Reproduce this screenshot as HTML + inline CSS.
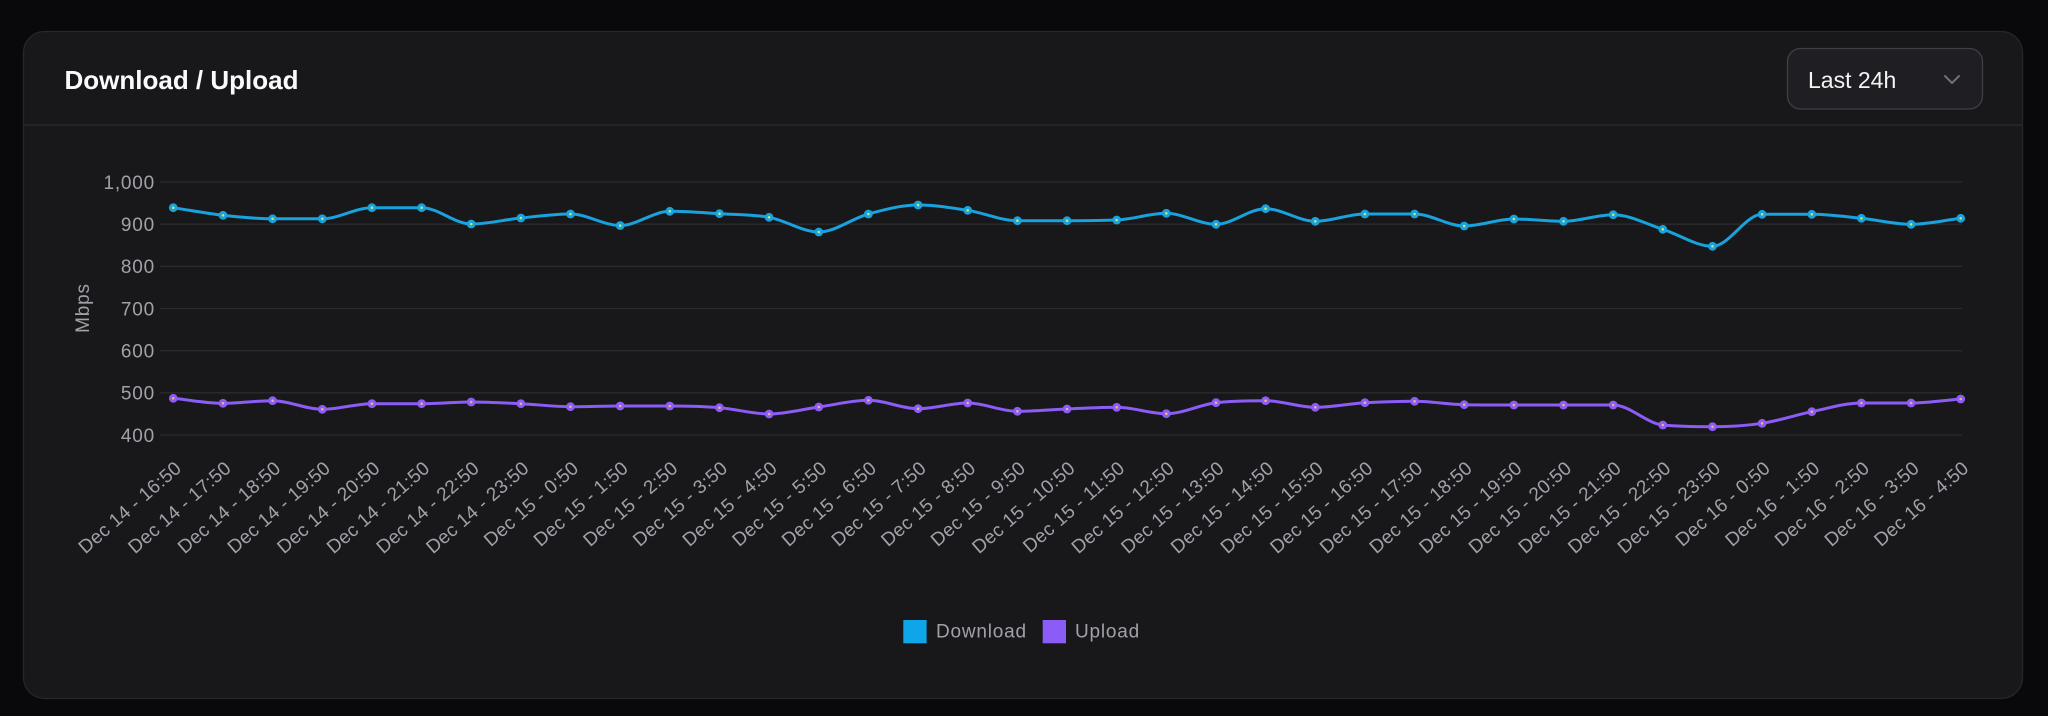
<!DOCTYPE html>
<html>
<head>
<meta charset="utf-8">
<style>
  html, body { margin:0; padding:0; background:#09090b; }
  body { width:2048px; height:716px; overflow:hidden; }
  svg { display:block; font-family:"Liberation Sans", sans-serif; }
  .tick { font-size:19px; fill:#a1a1aa; letter-spacing:0.8px; }
  .xl { font-size:19px; fill:#a1a1aa; letter-spacing:0.3px; }
</style>
</head>
<body>
<svg width="2048" height="716" viewBox="0 0 2048 716" xmlns="http://www.w3.org/2000/svg">
  <defs>
    <marker id="md" markerUnits="userSpaceOnUse" markerWidth="14" markerHeight="14" refX="7" refY="7" overflow="visible">
      <circle cx="7" cy="7" r="4.4" fill="#18a2de"/>
      <circle cx="7" cy="7" r="1.3" fill="#c9e26e"/>
    </marker>
    <marker id="mu" markerUnits="userSpaceOnUse" markerWidth="14" markerHeight="14" refX="7" refY="7" overflow="visible">
      <circle cx="7" cy="7" r="4.4" fill="#8b5cf6"/>
      <circle cx="7" cy="7" r="1.3" fill="#f0b27c"/>
    </marker>
  </defs>

  <rect x="0" y="0" width="2048" height="716" fill="#09090b"/>

  <rect x="23.5" y="31.5" width="1999" height="667" rx="21" ry="21" fill="#18181b" stroke="#27272a" stroke-width="1.3"/>
  <line x1="24" y1="125" x2="2022" y2="125" stroke="#2c2c30" stroke-width="1.3"/>

  <text x="64.5" y="89" font-size="26" font-weight="bold" fill="#fafafa">Download / Upload</text>

  <rect x="1787.5" y="48.5" width="195" height="60.5" rx="13" ry="13" fill="#1f1f23" stroke="#3f3f46" stroke-width="1.3"/>
  <text x="1808" y="88" font-size="23" fill="#f4f4f5">Last 24h</text>
  <polyline points="1945,76 1952,83 1959,76" fill="none" stroke="#71717a" stroke-width="2" stroke-linecap="round" stroke-linejoin="round"/>

  <g stroke="#2a2a2e" stroke-width="1.3">
    <line x1="160" y1="182" x2="1962" y2="182"/>
    <line x1="160" y1="224.2" x2="1962" y2="224.2"/>
    <line x1="160" y1="266.3" x2="1962" y2="266.3"/>
    <line x1="160" y1="308.5" x2="1962" y2="308.5"/>
    <line x1="160" y1="350.7" x2="1962" y2="350.7"/>
    <line x1="160" y1="392.8" x2="1962" y2="392.8"/>
    <line x1="160" y1="435" x2="1962" y2="435"/>
  </g>

  <g class="tick" text-anchor="end">
    <text x="155" y="188.8">1,000</text>
    <text x="155" y="231">900</text>
    <text x="155" y="273.1">800</text>
    <text x="155" y="315.3">700</text>
    <text x="155" y="357.5">600</text>
    <text x="155" y="399.6">500</text>
    <text x="155" y="441.8">400</text>
  </g>
  <text class="tick" transform="translate(89,308) rotate(-90)" text-anchor="middle">Mbps</text>

  <g class="xl" text-anchor="end">
    <text transform="translate(182.6,470) rotate(-41)">Dec 14 - 16:50</text>
    <text transform="translate(232.3,470) rotate(-41)">Dec 14 - 17:50</text>
    <text transform="translate(281.9,470) rotate(-41)">Dec 14 - 18:50</text>
    <text transform="translate(331.6,470) rotate(-41)">Dec 14 - 19:50</text>
    <text transform="translate(381.2,470) rotate(-41)">Dec 14 - 20:50</text>
    <text transform="translate(430.9,470) rotate(-41)">Dec 14 - 21:50</text>
    <text transform="translate(480.5,470) rotate(-41)">Dec 14 - 22:50</text>
    <text transform="translate(530.2,470) rotate(-41)">Dec 14 - 23:50</text>
    <text transform="translate(579.8,470) rotate(-41)">Dec 15 - 0:50</text>
    <text transform="translate(629.5,470) rotate(-41)">Dec 15 - 1:50</text>
    <text transform="translate(679.1,470) rotate(-41)">Dec 15 - 2:50</text>
    <text transform="translate(728.8,470) rotate(-41)">Dec 15 - 3:50</text>
    <text transform="translate(778.4,470) rotate(-41)">Dec 15 - 4:50</text>
    <text transform="translate(828.1,470) rotate(-41)">Dec 15 - 5:50</text>
    <text transform="translate(877.7,470) rotate(-41)">Dec 15 - 6:50</text>
    <text transform="translate(927.4,470) rotate(-41)">Dec 15 - 7:50</text>
    <text transform="translate(977,470) rotate(-41)">Dec 15 - 8:50</text>
    <text transform="translate(1026.7,470) rotate(-41)">Dec 15 - 9:50</text>
    <text transform="translate(1076.3,470) rotate(-41)">Dec 15 - 10:50</text>
    <text transform="translate(1126,470) rotate(-41)">Dec 15 - 11:50</text>
    <text transform="translate(1175.6,470) rotate(-41)">Dec 15 - 12:50</text>
    <text transform="translate(1225.3,470) rotate(-41)">Dec 15 - 13:50</text>
    <text transform="translate(1274.9,470) rotate(-41)">Dec 15 - 14:50</text>
    <text transform="translate(1324.6,470) rotate(-41)">Dec 15 - 15:50</text>
    <text transform="translate(1374.2,470) rotate(-41)">Dec 15 - 16:50</text>
    <text transform="translate(1423.9,470) rotate(-41)">Dec 15 - 17:50</text>
    <text transform="translate(1473.5,470) rotate(-41)">Dec 15 - 18:50</text>
    <text transform="translate(1523.2,470) rotate(-41)">Dec 15 - 19:50</text>
    <text transform="translate(1572.8,470) rotate(-41)">Dec 15 - 20:50</text>
    <text transform="translate(1622.5,470) rotate(-41)">Dec 15 - 21:50</text>
    <text transform="translate(1672.1,470) rotate(-41)">Dec 15 - 22:50</text>
    <text transform="translate(1721.8,470) rotate(-41)">Dec 15 - 23:50</text>
    <text transform="translate(1771.4,470) rotate(-41)">Dec 16 - 0:50</text>
    <text transform="translate(1821.1,470) rotate(-41)">Dec 16 - 1:50</text>
    <text transform="translate(1870.7,470) rotate(-41)">Dec 16 - 2:50</text>
    <text transform="translate(1920.4,470) rotate(-41)">Dec 16 - 3:50</text>
    <text transform="translate(1970,470) rotate(-41)">Dec 16 - 4:50</text>
  </g>

  <g id="series">
    <polyline id="upl" fill="none" stroke="#8b5cf6" stroke-width="3" stroke-linejoin="round"
      marker-start="url(#mu)" marker-mid="url(#mu)" marker-end="url(#mu)"
      points="173.3,398.3 223,403.3 272.6,400.7 322.3,409.3 371.9,403.7 421.6,403.7 471.2,402 520.9,403.7 570.5,406.7 620.2,406 669.8,406 719.5,407.7 769.1,414 818.8,407 868.4,400.3 918.1,408.7 967.7,403 1017.4,411.3 1067,409 1116.7,407.3 1166.3,413.7 1216,402.7 1265.6,400.7 1315.3,407.3 1364.9,402.7 1414.6,401.3 1464.2,404.7 1513.9,405 1563.5,405 1613.2,405 1662.8,425 1712.5,426.7 1762.1,423.3 1811.8,411.7 1861.4,403 1911.1,403 1960.7,399"/>
    <polyline id="dl" fill="none" stroke="#18a2de" stroke-width="3" stroke-linejoin="round"
      marker-start="url(#md)" marker-mid="url(#md)" marker-end="url(#md)"
      points="173.3,207.7 223,215.3 272.6,218.8 322.3,218.8 371.9,207.7 421.6,207.7 471.2,224 520.9,218 570.5,214 620.2,225.5 669.8,211.3 719.5,213.7 769.1,217.3 818.8,232 868.4,214 918.1,205 967.7,210.3 1017.4,220.7 1067,220.7 1116.7,220 1166.3,213.3 1216,224.3 1265.6,208.7 1315.3,221.3 1364.9,214 1414.6,214 1464.2,226 1513.9,219 1563.5,221.3 1613.2,214.7 1662.8,229.3 1712.5,246.3 1762.1,214.3 1811.8,214.3 1861.4,218.3 1911.1,224.3 1960.7,218.3"/>
  </g>

  <rect x="903.3" y="620" width="23.3" height="23.3" fill="#0ea5e9"/>
  <text class="tick" x="936" y="637.3">Download</text>
  <rect x="1042.7" y="620" width="23.3" height="23.3" fill="#8b5cf6"/>
  <text class="tick" x="1075" y="637.3">Upload</text>
</svg>

<script>
(function(){
  var NS = "http://www.w3.org/2000/svg";
  function smooth(id){
    var pl = document.getElementById(id);
    if(!pl) return;
    var raw = pl.getAttribute("points").trim().split(/\s+/);
    var x = [], y = [];
    raw.forEach(function(p){ var a = p.split(","); x.push(+a[0]); y.push(+a[1]); });
    var n = x.length, dk = [], mk = [], i;
    for(i=0;i<n-1;i++) dk[i] = (y[i+1]-y[i])/(x[i+1]-x[i]);
    for(i=0;i<n;i++){
      if(i===0) mk[i] = dk[0];
      else if(i===n-1) mk[i] = dk[n-2];
      else if(Math.sign(dk[i-1]) !== Math.sign(dk[i]) || dk[i-1]===0 || dk[i]===0) mk[i] = 0;
      else mk[i] = (dk[i-1]+dk[i])/2;
    }
    for(i=0;i<n-1;i++){
      if(Math.abs(dk[i]) < 1e-9){ mk[i]=0; mk[i+1]=0; continue; }
      var a = mk[i]/dk[i], b = mk[i+1]/dk[i], s = a*a+b*b;
      if(s > 9){ var t = 3/Math.sqrt(s); mk[i] = a*t*dk[i]; mk[i+1] = b*t*dk[i]; }
    }
    var d = "M" + x[0] + " " + y[0];
    for(i=0;i<n-1;i++){
      var dx = (x[i+1]-x[i])/3;
      d += " C" + (x[i]+dx).toFixed(2) + " " + (y[i]+mk[i]*dx).toFixed(2) + " " +
           (x[i+1]-dx).toFixed(2) + " " + (y[i+1]-mk[i+1]*dx).toFixed(2) + " " +
           x[i+1] + " " + y[i+1];
    }
    var path = document.createElementNS(NS, "path");
    path.setAttribute("d", d);
    path.setAttribute("fill", "none");
    path.setAttribute("stroke", pl.getAttribute("stroke"));
    path.setAttribute("stroke-width", "3");
    path.setAttribute("stroke-linejoin", "round");
    pl.parentNode.insertBefore(path, pl);
    pl.setAttribute("stroke", "none");
  }
  smooth("upl");
  smooth("dl");
})();
</script>
</body>
</html>
